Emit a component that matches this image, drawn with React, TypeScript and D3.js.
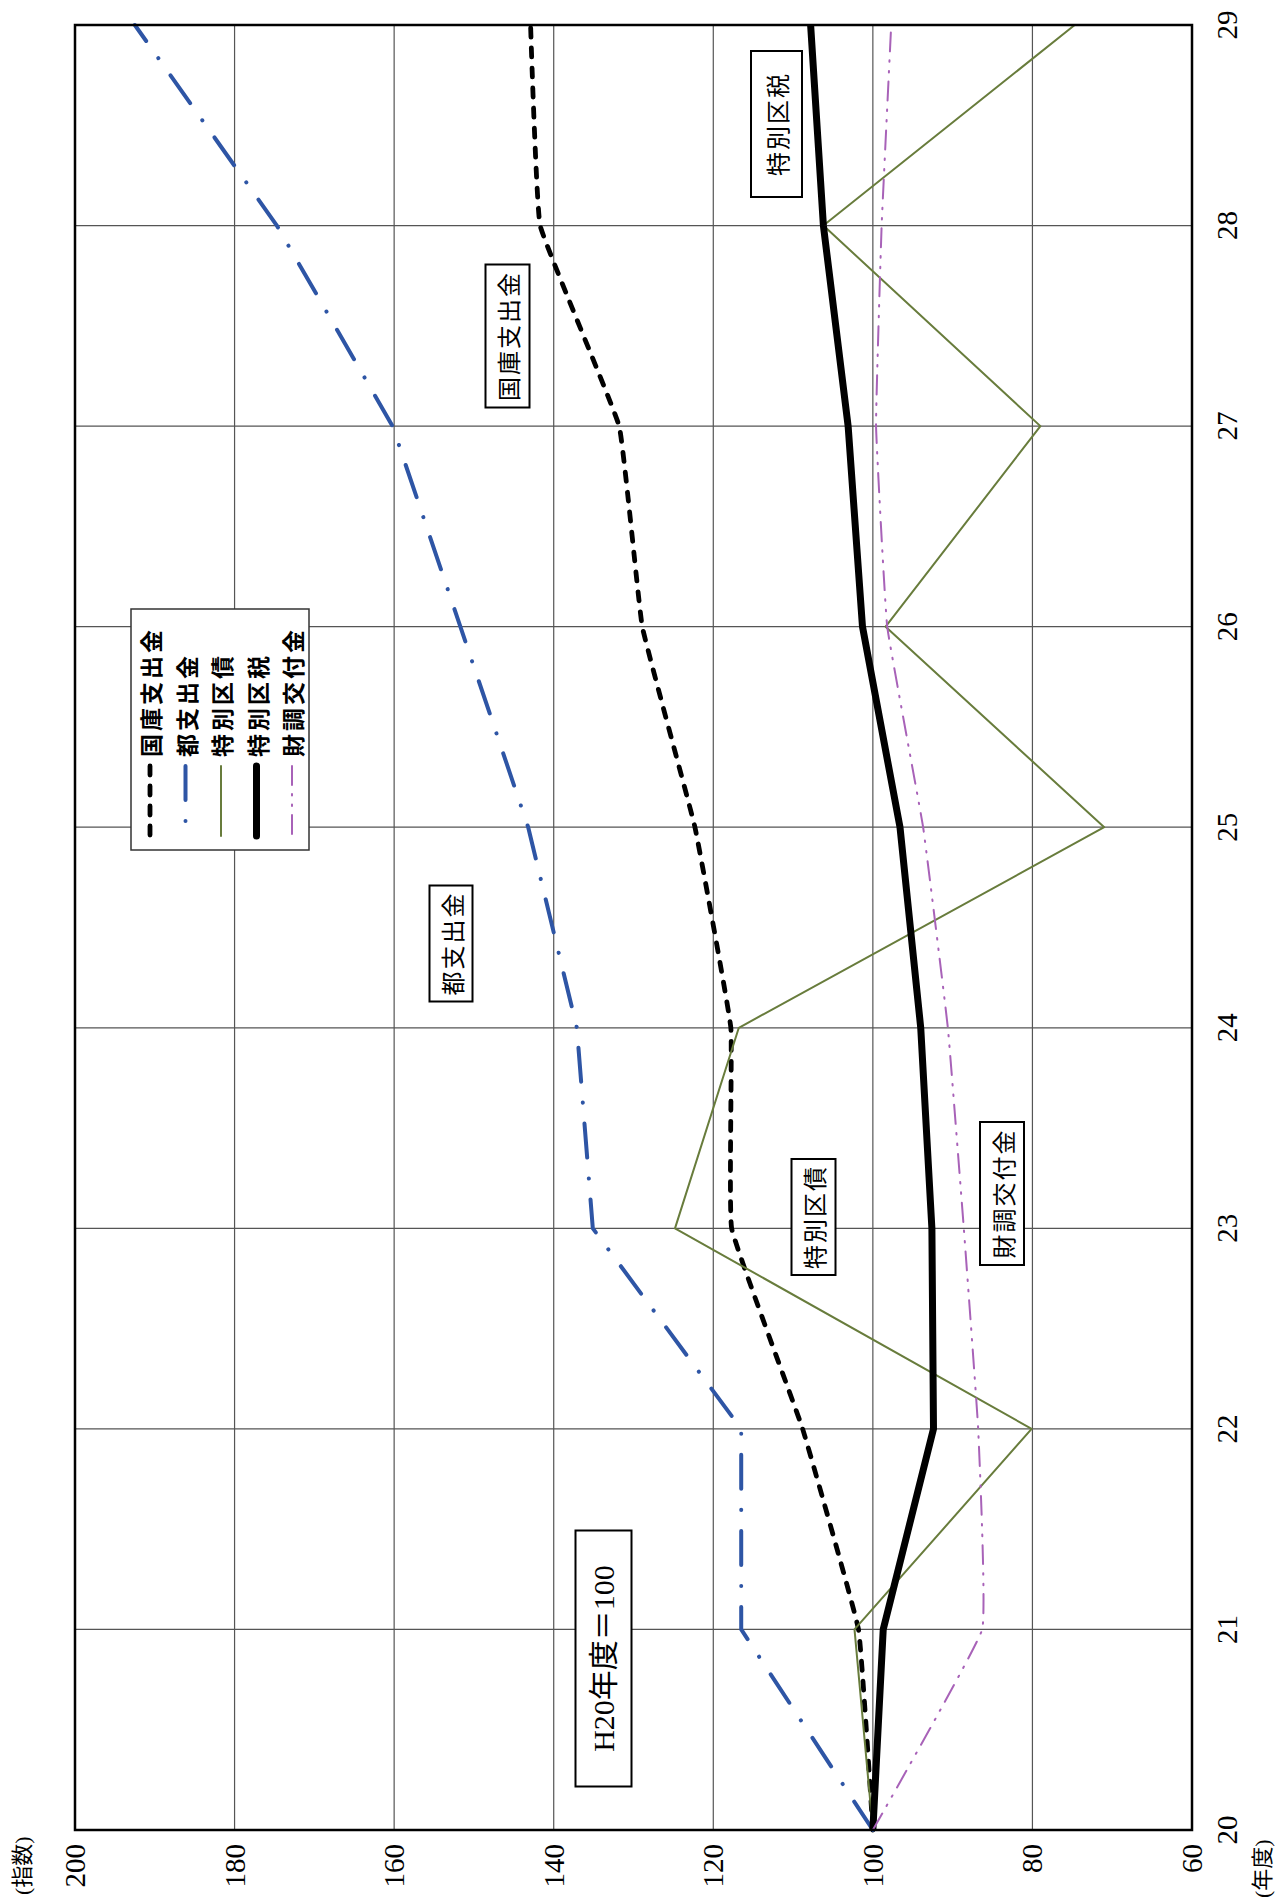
import * as d3 from "d3";

// 年度 (H20..H29), H20 = 100
const years = [20, 21, 22, 23, 24, 25, 26, 27, 28, 29];
const kokkoShishutsu = [100, 101.8, 108.8, 117.7, 117.8, 122.3, 128.9, 131.8, 141.7, 142.9];
const toShishutsu = [100, 116.5, 116.5, 135.1, 137.1, 143.2, 151.7, 160.2, 174.7, 192.5];
const tokubetsukuSai = [100, 102.3, 80.1, 124.8, 116.8, 71.0, 98.4, 79.0, 106.2, 74.7];
const tokubetsukuZei = [100, 98.7, 92.4, 92.6, 94.0, 96.6, 101.3, 103.1, 106.2, 107.8];
const zaichoKofu = [100, 86.3, 86.8, 88.6, 90.6, 93.7, 98.2, 99.6, 98.9, 97.7];

const valueTicks = [200, 180, 160, 140, 120, 100, 80, 60];
const seriesNames = ["国庫支出金", "都支出金", "特別区債", "特別区税", "財調交付金"];

const W = 1275, H = 1903;
const left = 75, right = 1192, top = 25, bottom = 1830;

const serif = "'Liberation Serif', 'DejaVu Serif', 'Noto Sans CJK JP', serif";
const gothic = "'Noto Sans CJK JP', sans-serif";

export default function App() {
  const x = d3.scaleLinear([60, 200], [right, left]);
  const y = d3.scaleLinear([20, 29], [bottom, top]);

  const soft = d3.curveCardinal.tension(0.75);
  const series = [
    { name: seriesNames[0], values: kokkoShishutsu, color: "#000", width: 4.8, dash: "9 11", curve: soft },
    { name: seriesNames[1], values: toShishutsu, color: "#2E55A5", width: 4, dash: "34 21 0.1 21", curve: d3.curveLinear },
    { name: seriesNames[2], values: tokubetsukuSai, color: "#687C3C", width: 2, dash: null, curve: d3.curveLinear },
    { name: seriesNames[3], values: tokubetsukuZei, color: "#000", width: 7, dash: null, curve: d3.curveLinear },
    { name: seriesNames[4], values: zaichoKofu, color: "#A862B8", width: 2, dash: "19 9 1.5 9 1.5 9", curve: soft },
  ];

  const line = (vals: number[], curve: any) =>
    d3.line<[number, number]>()
      .x(d => x(d[1]))
      .y(d => y(d[0]))
      .curve(curve)(years.map((yr, i) => [yr, vals[i]] as [number, number]));

  // annotation boxes: centre (px), size (px)
  const notes = [
    { text: "H20年度＝100", cx: 603.5, cy: 1658.5, w: 56, h: 256, font: serif, size: 30, ls: 0 },
    { text: seriesNames[2], cx: 813.5, cy: 1217, w: 44, h: 116, font: gothic, size: 24, ls: 2 },
    { text: seriesNames[4], cx: 1002, cy: 1193.5, w: 44, h: 143, font: gothic, size: 24, ls: 2 },
    { text: seriesNames[1], cx: 451, cy: 943.5, w: 43, h: 116, font: gothic, size: 24, ls: 2 },
    { text: seriesNames[0], cx: 507.5, cy: 336, w: 44, h: 143, font: gothic, size: 24, ls: 2 },
    { text: seriesNames[3], cx: 776.5, cy: 124, w: 51, h: 146, font: gothic, size: 24, ls: 2 },
  ];

  const legend = { x: 131, y: 609, w: 178, h: 241 };

  return (
    <svg width={W} height={H} style={{ position: "absolute", left: 0, top: 0, background: "#fff" }}>
      <rect x={0} y={0} width={W} height={H} fill="#fff" />
      {/* grid */}
      {valueTicks.slice(1, -1).map(v => (
        <line key={"gv" + v} x1={x(v)} x2={x(v)} y1={top} y2={bottom} stroke="#555" strokeWidth={1.2} />
      ))}
      {years.slice(1, -1).map(yr => (
        <line key={"gy" + yr} x1={left} x2={right} y1={y(yr)} y2={y(yr)} stroke="#555" strokeWidth={1.2} />
      ))}
      {/* series */}
      {series.map(s => (
        <path key={s.name} d={line(s.values, s.curve) || ""} fill="none" stroke={s.color}
          strokeWidth={s.width} strokeDasharray={s.dash || undefined}
          strokeLinecap={s.dash ? "round" : "butt"} strokeLinejoin="round" />
      ))}
      {/* frame */}
      <rect x={left} y={top} width={right - left} height={bottom - top} fill="none" stroke="#000" strokeWidth={2.5} />
      {/* annotation boxes */}
      {notes.map(n => (
        <g key={n.text}>
          <rect x={n.cx - n.w / 2} y={n.cy - n.h / 2} width={n.w} height={n.h} fill="#fff" stroke="#000" strokeWidth={2} />
          <text transform={`translate(${n.cx},${n.cy}) rotate(-90)`} textAnchor="middle" dominantBaseline="central"
            fontFamily={n.font} fontSize={n.size} letterSpacing={n.ls} fill="#000">{n.text}</text>
        </g>
      ))}
      {/* legend */}
      <rect x={legend.x} y={legend.y} width={legend.w} height={legend.h} fill="#fff" stroke="#333" strokeWidth={1.5} />
      {series.map((s, i) => {
        const cx = 150 + i * 35.5;
        return (
          <g key={"lg" + s.name}>
            <line x1={cx} x2={cx} y1={766} y2={836} stroke={s.color} strokeWidth={s.width}
              strokeDasharray={s.dash || undefined} strokeLinecap="round" />
            <text transform={`translate(${cx},757) rotate(-90)`} textAnchor="start" dominantBaseline="central"
              fontFamily={gothic} fontWeight="bold" fontSize={23} letterSpacing={3} fill="#000">{s.name}</text>
          </g>
        );
      })}
      {/* value axis labels (bottom) */}
      {valueTicks.map(v => (
        <text key={"vt" + v} transform={`translate(${x(v)},${bottom + 14}) rotate(-90)`} textAnchor="end"
          dominantBaseline="central" fontFamily={serif} fontSize={29} fill="#000">{v}</text>
      ))}
      {/* year labels (right) */}
      {years.map(yr => (
        <text key={"yt" + yr} transform={`translate(${right + 35},${y(yr)}) rotate(-90)`} textAnchor="middle"
          dominantBaseline="central" fontFamily={serif} fontSize={29} fill="#000">{yr}</text>
      ))}
      <text transform={`translate(22,1895) rotate(-90)`} textAnchor="start" dominantBaseline="central"
        fontFamily={serif} fontSize={22} fill="#000">(指数)</text>
      <text transform={`translate(1262,1898) rotate(-90)`} textAnchor="start" dominantBaseline="central"
        fontFamily={serif} fontSize={22} fill="#000">(年度)</text>
    </svg>
  );
}
